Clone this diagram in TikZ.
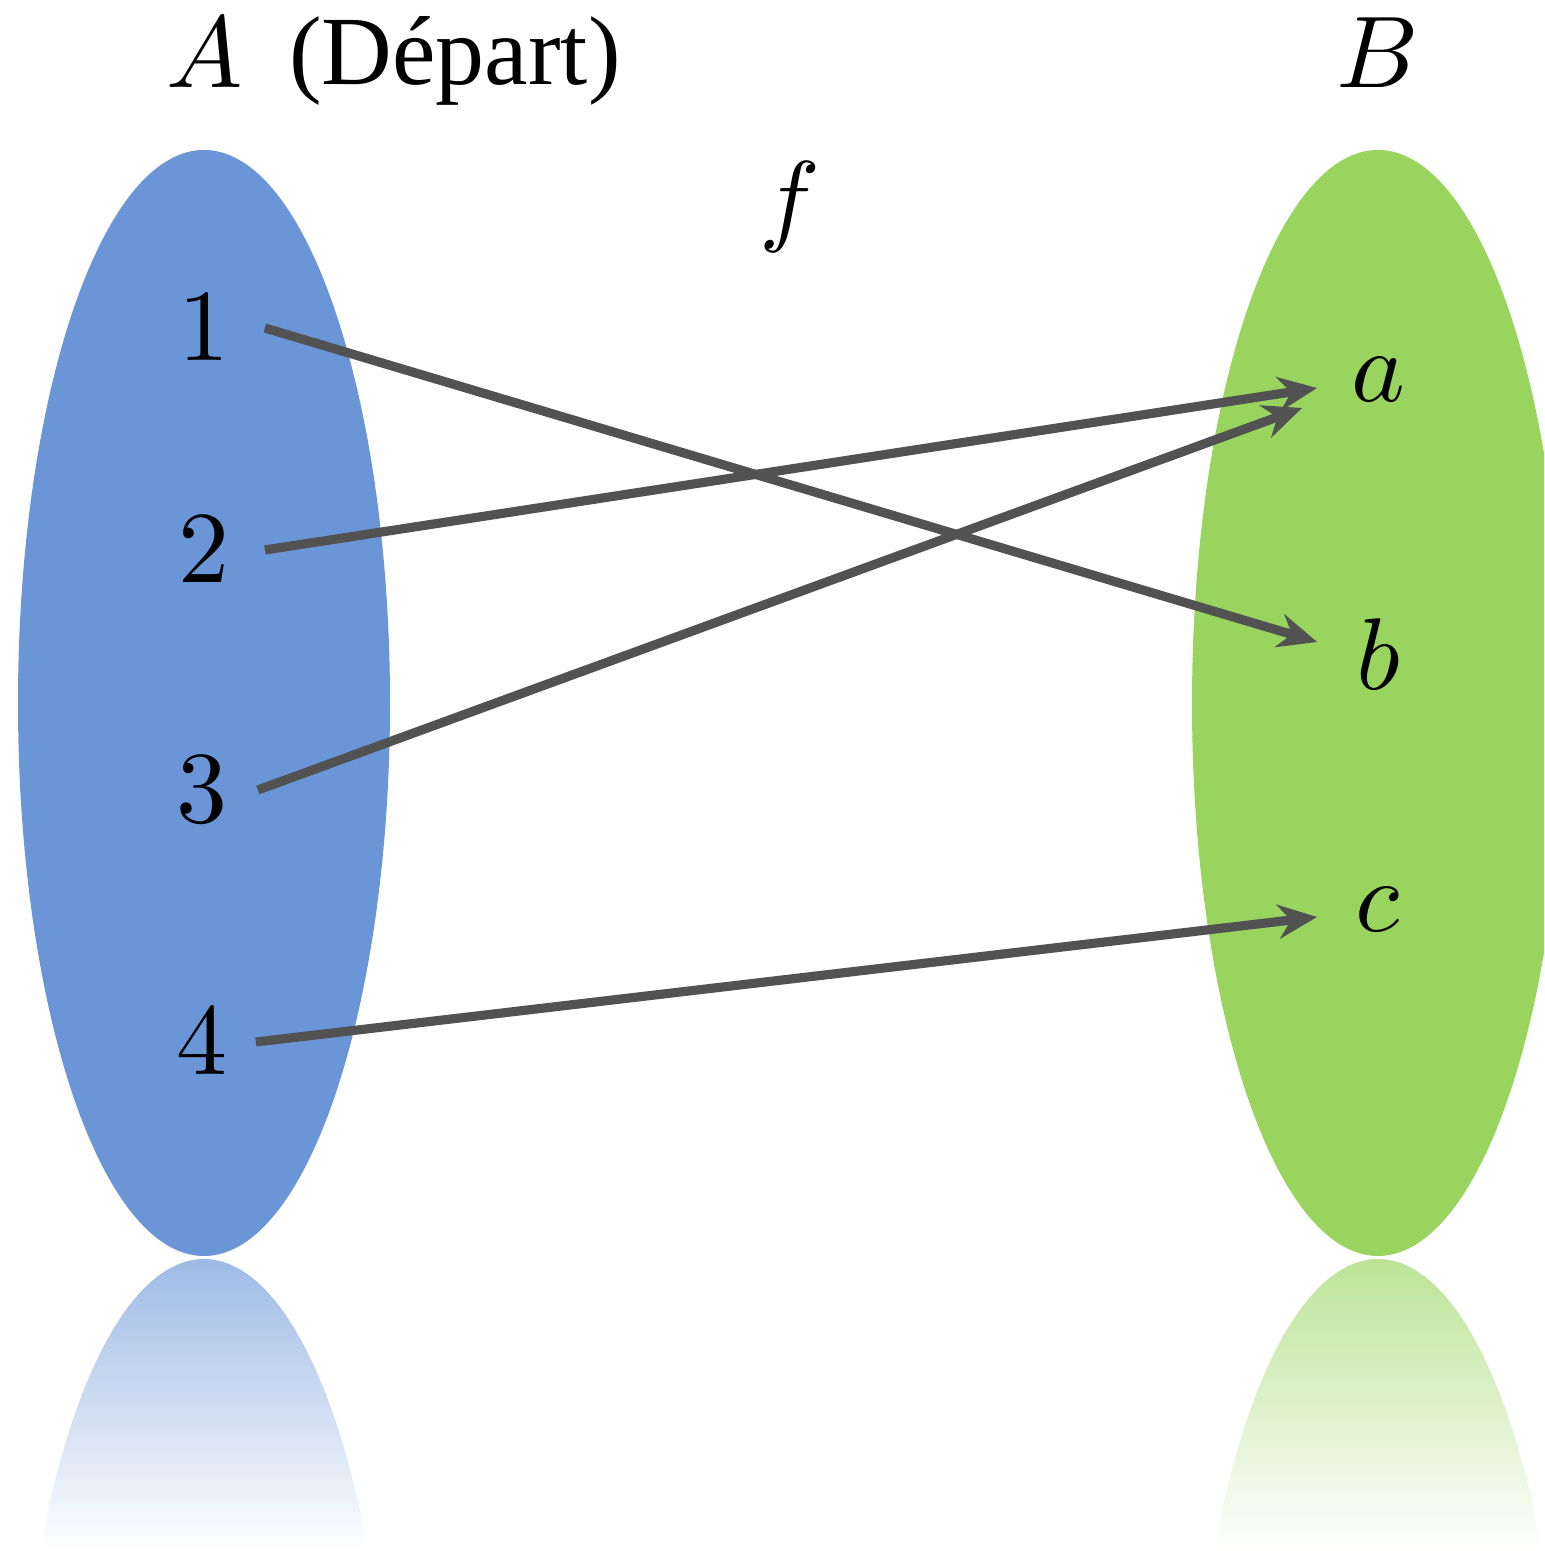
\documentclass[tikz,border=0pt]{standalone}
\usepackage[no-math]{fontspec}
\newfontfamily\labelfont{Liberation Serif}
\usetikzlibrary{arrows.meta}

\definecolor{setblue}{RGB}{106,149,214}
\definecolor{setgreen}{RGB}{152,212,94}
\definecolor{arrowgray}{RGB}{82,82,82}

\begin{document}
\begin{tikzpicture}[line width=2.6pt, line cap=round, line join=round,
    every node/.style={scale=2.9},
    elem/.style={minimum width=0.42cm, inner sep=0pt, outer sep=0pt},
    maparrow/.style={arrowgray, line cap=butt, -{Stealth[length=3.9mm, width=3.4mm]}}]
    \def\rx{1.86}
    \def\ry{5.53}

    \useasboundingbox (0,0) rectangle (15.44,15.51);
    \clip (0,0) rectangle (15.44,15.51);

    % the two sets
    \fill[setblue] (2.04,8.48) ellipse ({\rx} and {\ry});
    \fill[setgreen] (13.78,8.48) ellipse ({\rx} and {\ry});

    % reflections
    \begin{scope}
        \clip (2.04,-2.61) ellipse ({\rx} and {\ry});
        \shade[top color=setblue!65, bottom color=white] (0,0) rectangle (4.5,2.93);
    \end{scope}
    \begin{scope}
        \clip (13.78,-2.61) ellipse ({\rx} and {\ry});
        \shade[top color=setgreen!65, bottom color=white] (11.5,0) rectangle (15.44,2.93);
    \end{scope}

    \node[anchor=base] (setA) at (2.05,14.63) {$A$};
    \node[anchor=base, scale=0.96] (depart) at (4.55,14.66) {\labelfont (Départ)};
    \node[anchor=base] (setB) at (13.78,14.63) {$B$};
    \node[anchor=base] (fname) at (7.90,13.18) {$f$};

    \node[elem] (n1) at (2.04,12.23) {$1$};
    \node[elem] (n2) at (2.04,10.01) {$2$};
    \node[elem] (n3) at (2.02,7.61) {$3$};
    \node[elem] (n4) at (2.02,5.09) {$4$};

    \node[elem] (na) at (13.78,11.71) {$a$};
    \node[elem] (nb) at (13.78,8.97) {$b$};
    \node[elem] (nc) at (13.78,6.41) {$c$};

    \draw[maparrow] (n1.east) -- ([yshift=1.2mm]nb.west);
    \draw[maparrow] (n2.east) -- ([yshift=-0.8mm]na.west);
    \draw[maparrow] ([xshift=-0.5mm]n3.east) -- ([shift={(-1.5mm,-2.8mm)}]na.west);
    \draw[maparrow] ([xshift=-0.7mm]n4.east) -- ([yshift=-0.7mm]nc.west);
\end{tikzpicture}
\end{document}
